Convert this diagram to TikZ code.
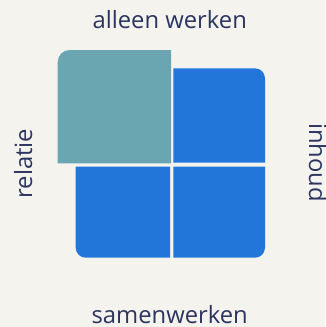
\documentclass[tikz,border=0pt]{standalone}
\usepackage{fontspec}
\setmainfont{Open Sans}
\definecolor{bg}{HTML}{F5F3EE}
\definecolor{teal}{HTML}{6AA5B2}
\definecolor{blu}{HTML}{2276D9}
\definecolor{ink}{HTML}{2B3560}
\begin{document}
\begin{tikzpicture}[x=1pt,y=-1pt,
  lbl/.style={text=ink,font=\fontsize{23.8}{28}\selectfont,inner sep=0pt,anchor=base},
  quad/.style={fill=blu}]
\fill[bg] (0,0) rectangle (325,327);
\useasboundingbox (0,0) rectangle (325,327);
% blue quadrants
\fill[quad] (173.3,162.7) -- (173.3,68.3) -- (255,68.3) arc[start angle=270,end angle=360,radius=10] -- (265,162.7) -- cycle;
\fill[quad] (173.3,166.7) -- (265,166.7) -- (265,247.7) arc[start angle=0,end angle=90,radius=10] -- (173.3,257.7) -- cycle;
\fill[quad] (170,166.7) -- (170,257.7) -- (85.7,257.7) arc[start angle=90,end angle=180,radius=10] -- (75.7,166.7) -- cycle;
% teal
\fill[teal] (171,163.3) -- (57.7,163.3) -- (57.7,62) arc[start angle=180,end angle=270,radius=12] -- (171,50) -- cycle;
% labels
\node[lbl] (top) at (169.7,28) {alleen werken};
\node[lbl] (bot) at (169.7,323.3) {samenwerken};
\node[lbl,rotate=90] (left) at (32,163.5) {relatie};
\node[lbl,rotate=-90] (right) at (309,162.5) {inhoud};
\end{tikzpicture}
\end{document}
